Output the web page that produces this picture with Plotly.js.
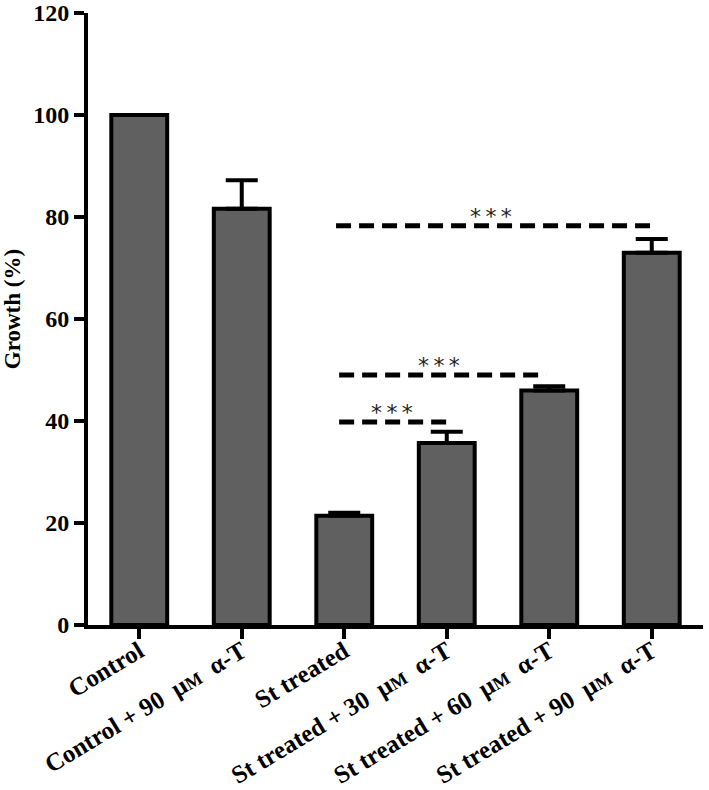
<!DOCTYPE html>
<html>
<head>
<meta charset="utf-8">
<script src="https://cdn.plot.ly/plotly-3.0.1.min.js"></script>
<style>html,body{margin:0;padding:0;background:#fff;}#chart{width:709px;height:790px;}</style>
</head>
<body>
<div id="chart"></div>
<script>
var uM = "\u03bc<span style='font-size:18px'>M</span>";
var categories = [
  "Control",
  "Control + 90\u00a0 " + uM + "\u00a0 \u03b1-T",
  "St treated",
  "St treated + 30\u00a0 " + uM + "\u00a0 \u03b1-T",
  "St treated + 60\u00a0 " + uM + "\u00a0 \u03b1-T",
  "St treated + 90\u00a0 " + uM + "\u00a0 \u03b1-T"
];
var growth = [100, 81.6, 21.4, 35.7, 46.0, 73.0];
var growthErr = [0, 5.6, 0.6, 2.2, 0.8, 2.7];
var yTicks = [0, 20, 40, 60, 80, 100, 120];
var yTitle = "Growth (%)";
// significance brackets: [fromIndex, toIndex, yLevel]
var sigFrom = [1.95, 1.98, 1.98];
var sigTo = [5.01, 3.97, 3.06];
var sigY = [78.3, 49.0, 39.8];
var sigLabel = ["*\u2009*\u2009*", "*\u2009*\u2009*", "*\u2009*\u2009*"];

var font = "'Liberation Serif', 'Times New Roman', serif";

var trace = {
  type: "bar",
  x: categories.map(function(c, i){ return i; }),
  y: growth,
  width: 0.545,
  marker: {color: "#606060", line: {color: "#000", width: 4}},
  error_y: {type: "data", symmetric: false, array: growthErr,
            arrayminus: growthErr.map(function(){ return 0; }),
            color: "#000", thickness: 4, width: 16},
  hoverinfo: "none"
};

var shapes = [];
var annotations = [];
for (var i = 0; i < sigY.length; i++) {
  shapes.push({type: "line", xref: "x", yref: "y", x0: sigFrom[i] - 0.03, x1: sigTo[i],
    y0: sigY[i], y1: sigY[i], line: {color: "#000", width: 5, dash: "15px,8px"}});
  annotations.push({xref: "x", yref: "y", x: (sigFrom[i] + sigTo[i]) / 2 - 0.05, y: sigY[i],
    yshift: -5, text: sigLabel[i], showarrow: false, yanchor: "bottom",
    font: {family: "'DejaVu Sans', sans-serif", size: 22, color: "#222"}});
}
annotations.push({xref: "paper", yref: "paper", x: -0.1236, y: 0.516,
  xanchor: "center", yanchor: "middle", textangle: -90, showarrow: false,
  text: yTitle, font: {family: font, size: 23, color: "#000", weight: "bold"}});

var layout = {
  width: 709, height: 790,
  margin: {l: 88, r: 6, t: 13, b: 165},
  paper_bgcolor: "#fff", plot_bgcolor: "#fff",
  showlegend: false,
  xaxis: {
    range: [-0.5, 5.5], tickmode: "array",
    tickvals: categories.map(function(c, i){ return i; }),
    ticktext: categories, tickangle: -31, ticklabelstandoff: -12,
    showline: true, linecolor: "#000", linewidth: 4,
    ticks: "outside", ticklen: 10, tickwidth: 4, tickcolor: "#000",
    showgrid: false, zeroline: false,
    tickfont: {family: font, size: 25, color: "#000", weight: "bold"}
  },
  yaxis: {
    range: [0, 120], tickmode: "array", tickvals: yTicks,
    showline: true, linecolor: "#000", linewidth: 4,
    ticks: "outside", ticklen: 10, tickwidth: 4, tickcolor: "#000",
    showgrid: false, zeroline: false, ticklabeloverflow: "allow",
    tickfont: {family: font, size: 24, color: "#000", weight: "bold"}
  },
  shapes: shapes,
  annotations: annotations
};

Plotly.newPlot("chart", [trace], layout, {staticPlot: true});
</script>
</body>
</html>
